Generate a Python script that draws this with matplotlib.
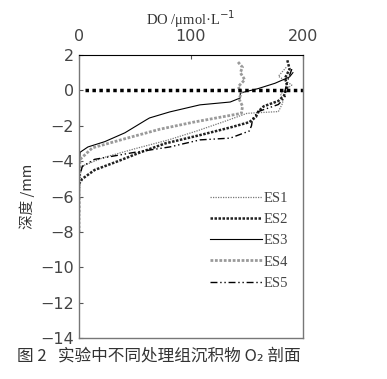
import matplotlib
matplotlib.use('Agg')
import matplotlib.pyplot as plt

# Oxygen profiles, depth (mm) vs DO (umol/L)
es1_depth = [1.3, 0.8, 0.3, -0.2, -0.7, -1.2, -1.3, -1.8, -2.3, -2.8, -3.3, -3.8, -4.3, -6.0, -8.5]
es1_do = [185, 178, 190, 180, 182, 178, 150, 128, 105, 80, 50, 22, 2, 0, 0]

es2_depth = [1.7, 1.2, 0.7, 0.2, -0.3, -0.6, -0.9, -1.2, -1.5, -1.8, -2.1, -2.5, -3.0, -3.5, -4.0, -4.5, -5.0, -5.3, -6.0, -8.0]
es2_do = [186, 188, 184, 186, 183, 178, 165, 160, 158, 152, 135, 110, 77, 55, 35, 14, 3, 0, 0, 0]

es3_depth = [1.0, 0.76, 0.4, 0.1, -0.15, -0.43, -0.66, -0.82, -1.22, -1.56, -1.67, -2.4, -2.9, -3.2, -3.5, -5.0, -8.0, -11.5]
es3_do = [191, 188, 175, 160, 144, 144, 135, 108, 81, 63, 60, 41, 23, 8, 1, 0, 0, 0]

es4_depth = [1.6, 1.3, 1.0, 0.6, 0.2, -0.1, -0.5, -0.9, -1.3, -1.8, -2.2, -2.7, -3.25, -3.9, -5.0, -7.0]
es4_do = [142, 146, 144, 148, 142, 145, 143, 146, 145, 102, 72, 43, 12, 1, 0, 0]

es5_depth = [1.2, 0.5, 0.0, -0.4, -0.8, -1.2, -1.6, -2.0, -2.3, -2.7, -2.8, -3.2, -3.5, -3.9, -4.3, -5.0, -6.0]
es5_do = [190, 186, 184, 184, 178, 160, 155, 154, 152, 135, 108, 81, 50, 14, 3, 0, 0]

x_ticks = [0, 100, 200]
y_ticks = [2, 0, -2, -4, -6, -8, -10, -12, -14]

fig = plt.figure(figsize=(3.87, 3.79), dpi=100)
ax = fig.add_axes([0.204, 0.108, 0.579, 0.747])

ax.plot(es1_do, es1_depth, color='#777777', lw=0.9, ls=(0, (1, 1)), label='ES1')
ax.plot(es2_do, es2_depth, color='#222222', lw=1.8, ls=(0, (1, 0.6)), label='ES2')
ax.plot(es3_do, es3_depth, color='black', lw=0.8, label='ES3')
ax.plot(es4_do, es4_depth, color='#9a9a9a', lw=2.0, ls=(0, (1, 0.6)), label='ES4')
ax.plot(es5_do, es5_depth, color='black', lw=1.0, ls=(0, (5, 2, 1, 2, 1, 2)), label='ES5')

# sediment-water interface
ax.plot([5, 200], [0, 0], color='black', lw=2.5, ls=(0, (1, 1)))

ax.set_xlim(0, 200)
ax.set_ylim(-14, 2)
ax.set_xticks(x_ticks)
ax.set_yticks(y_ticks)
ax.set_yticklabels([str(v).replace('-', '\u2212') for v in y_ticks])
ax.xaxis.tick_top()
ax.xaxis.set_label_position('top')
ax.tick_params(direction='in', length=3, labelsize=11.5, colors='#555555', labelcolor='#444444')
ax.tick_params(axis='x', pad=8)

for side in ['left', 'bottom', 'right']:
    ax.spines[side].set_color('#777777')
    ax.spines[side].set_linewidth(1.0)
ax.spines['top'].set_linestyle((0, (2, 1)))
ax.spines['top'].set_linewidth(0.8)

ax.set_xlabel('DO /\u03bcmol\u00b7L$^{-1}$', family='Liberation Serif', fontsize=10.5, labelpad=3, color='#333333')
ax.set_ylabel('深度 /mm', family=['Noto Sans CJK SC', 'DejaVu Sans'], fontsize=10.5, color='#333333')

leg = ax.legend(loc='lower right', bbox_to_anchor=(0.96, 0.15), frameon=False,
                handlelength=3.6, handletextpad=0.1, labelspacing=0.55,
                borderaxespad=0, prop={'family': 'Liberation Serif', 'size': 10.5})
for t in leg.get_texts():
    t.set_color('#444444')

fig.text(0.045, 0.062, '图 2   实验中不同处理组沉积物 O\u2082 剖面',
         family=['Noto Sans CJK SC', 'DejaVu Sans'], fontsize=12, color='#333333', va='center')

fig.savefig('out.png', dpi=100)
